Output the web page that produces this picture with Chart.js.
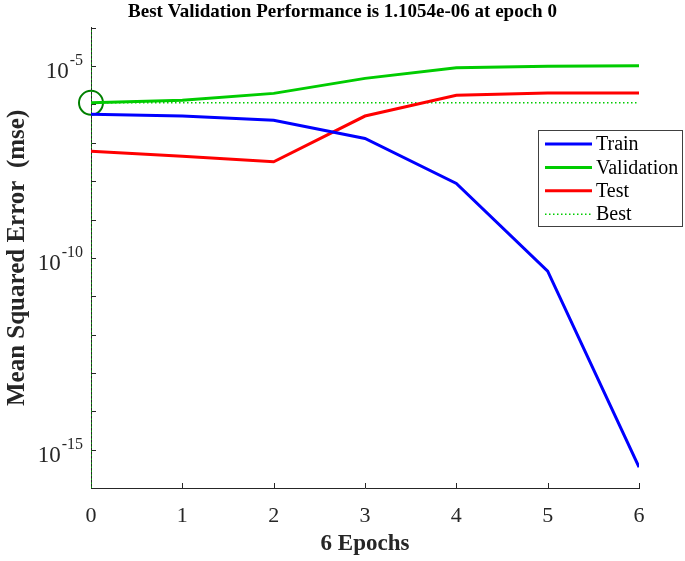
<!DOCTYPE html>
<html>
<head>
  <title>Performance</title>
  <script src="https://cdn.jsdelivr.net/npm/chart.js"></script>
  <style>
    body { margin: 0; background: #fff; }
  </style>
</head>
<body>
  <canvas id="perf" width="685" height="561"></canvas>

  <script>
    // values (mse per epoch)
    const epochs = [0, 1, 2, 3, 4, 5, 6];
    const trainMse = [5.6e-7, 5.0e-7, 3.9e-7, 1.3e-7, 8.7e-9, 4.5e-11, 3.5e-16];
    const validationMse = [1.1054e-6, 1.29e-6, 1.95e-6, 4.8e-6, 9.1e-6, 1.0e-5, 1.02e-5];
    const testMse = [6.0e-8, 4.5e-8, 3.2e-8, 5.0e-7, 1.74e-6, 2.0e-6, 2.0e-6];
    const bestEpoch = 0;
    const bestPerf = 1.1054e-6;
    const yDecades = [-16, -15, -14, -13, -12, -11, -10, -9, -8, -7, -6, -5, -4];
    const yLabelExps = [-5, -10, -15];

    const serif = '"Liberation Serif", "Times New Roman", serif';
    const toPts = arr => arr.map((v, i) => ({x: epochs[i], y: v}));

    // inward tick marks + 10^n labels
    const axisMarks = {
      id: 'axisMarks',
      beforeDatasetsDraw(chart) {
        const ctx = chart.ctx;
        const xs = chart.scales.x, ys = chart.scales.y;
        const a = chart.chartArea;
        ctx.save();
        ctx.strokeStyle = '#262626';
        ctx.lineWidth = 1;
        ctx.beginPath();
        epochs.forEach(e => {
          const px = Math.round(xs.getPixelForValue(e)) + 0.5;
          ctx.moveTo(px, a.bottom);
          ctx.lineTo(px, a.bottom - 5);
        });
        yDecades.forEach(d => {
          const py = Math.round(ys.getPixelForValue(Math.pow(10, d))) + 0.5;
          ctx.moveTo(a.left, py);
          ctx.lineTo(a.left + 5, py);
        });
        ctx.stroke();

        ctx.fillStyle = '#262626';
        ctx.textBaseline = 'alphabetic';
        yLabelExps.forEach(d => {
          const py = ys.getPixelForValue(Math.pow(10, d));
          const sup = String(d);
          ctx.font = '16px ' + serif;
          const wSup = ctx.measureText(sup).width;
          ctx.font = '23px ' + serif;
          const wBase = ctx.measureText('10').width;
          const right = a.left - 8;
          ctx.fillText('10', right - wSup - wBase - 1, py + 12);
          ctx.font = '16px ' + serif;
          ctx.fillText(sup, right - wSup, py - 1);
        });
        ctx.restore();
      }
    };

    // boxed legend drawn inside the plot, like the original figure
    const boxLegend = {
      id: 'boxLegend',
      afterDraw(chart) {
        const ctx = chart.ctx;
        const items = chart.data.datasets.filter(d => d.inLegend);
        const x0 = 538, y0 = 130, w = 144, h = 96;
        ctx.save();
        ctx.fillStyle = '#fff';
        ctx.fillRect(x0, y0, w, h);
        ctx.strokeStyle = '#404040';
        ctx.lineWidth = 1;
        ctx.strokeRect(x0 + 0.5, y0 + 0.5, w, h);
        ctx.font = '20px ' + serif;
        ctx.textBaseline = 'middle';
        items.forEach((d, i) => {
          const y = y0 + 14 + i * 23.4;
          ctx.strokeStyle = d.borderColor;
          ctx.lineWidth = d.borderWidth;
          ctx.setLineDash(d.borderDash || []);
          ctx.beginPath();
          ctx.moveTo(x0 + 7, y);
          ctx.lineTo(x0 + 54, y);
          ctx.stroke();
          ctx.setLineDash([]);
          ctx.fillStyle = '#000';
          ctx.fillText(d.label, x0 + 58, y + 1);
        });
        ctx.restore();
      }
    };

    new Chart(document.getElementById('perf').getContext('2d'), {
      type: 'line',
      data: {
        datasets: [
          {
            label: 'Train', inLegend: true,
            data: toPts(trainMse),
            borderColor: '#0000ff', borderWidth: 3, pointRadius: 0
          },
          {
            label: 'Validation', inLegend: true,
            data: toPts(validationMse),
            borderColor: '#00cc00', borderWidth: 3, pointRadius: 0
          },
          {
            label: 'Test', inLegend: true,
            data: toPts(testMse),
            borderColor: '#ff0000', borderWidth: 3, pointRadius: 0
          },
          {
            label: 'Best', inLegend: true,
            data: [{x: epochs[0], y: bestPerf}, {x: epochs[epochs.length - 1], y: bestPerf}],
            borderColor: '#00cc00', borderWidth: 1.5, borderDash: [1.5, 2.5], pointRadius: 0
          },
          {
            label: 'Best epoch',
            data: [{x: bestEpoch, y: Math.pow(10, yDecades[0])}, {x: bestEpoch, y: Math.pow(10, yDecades[yDecades.length - 1])}],
            borderColor: '#00cc00', borderWidth: 1.5, borderDash: [1.5, 2.5], pointRadius: 0
          },
          {
            label: 'Best point',
            data: [{x: bestEpoch, y: bestPerf}],
            showLine: false, clip: false,
            pointRadius: 12, pointHoverRadius: 12,
            pointBorderColor: '#008000', pointBackgroundColor: 'rgba(0,0,0,0)', pointBorderWidth: 2
          }
        ]
      },
      options: {
        responsive: false,
        animation: false,
        layout: { padding: 0 },
        plugins: {
          legend: { display: false },
          tooltip: { enabled: false },
          title: {
            display: true,
            text: 'Best Validation Performance is 1.1054e-06 at epoch 0',
            color: '#000',
            font: { family: serif, size: 19, weight: 'bold' },
            padding: { top: 1, bottom: 4 }
          }
        },
        scales: {
          x: {
            type: 'linear', min: 0, max: 6,
            border: { color: '#262626', width: 1 },
            grid: { display: false },
            ticks: { stepSize: 1, color: '#262626', padding: 7, font: { family: serif, size: 22 } },
            title: {
              display: true, text: '6 Epochs', color: '#262626',
              font: { family: serif, size: 23, weight: 'bold' },
              padding: { top: 0, bottom: 3 }
            },
            afterFit: s => { s.height = 73; }
          },
          y: {
            type: 'logarithmic',
            min: Math.pow(10, yDecades[0]), max: Math.pow(10, yDecades[yDecades.length - 1]),
            border: { color: '#262626', width: 1 },
            grid: { display: false },
            ticks: { display: false },
            title: {
              display: true, text: 'Mean Squared Error  (mse)', color: '#262626',
              font: { family: serif, size: 25, weight: 'bold' },
              padding: { top: 3, bottom: 0 }
            },
            afterFit: s => { s.width = 91; }
          },
          // empty right-hand margin so the title centres on the whole figure
          yRight: {
            type: 'linear', position: 'right', display: true,
            border: { display: false },
            grid: { display: false },
            ticks: { display: false },
            afterFit: s => { s.width = 46; }
          }
        }
      },
      plugins: [axisMarks, boxLegend]
    });
  </script>
</body>
</html>
